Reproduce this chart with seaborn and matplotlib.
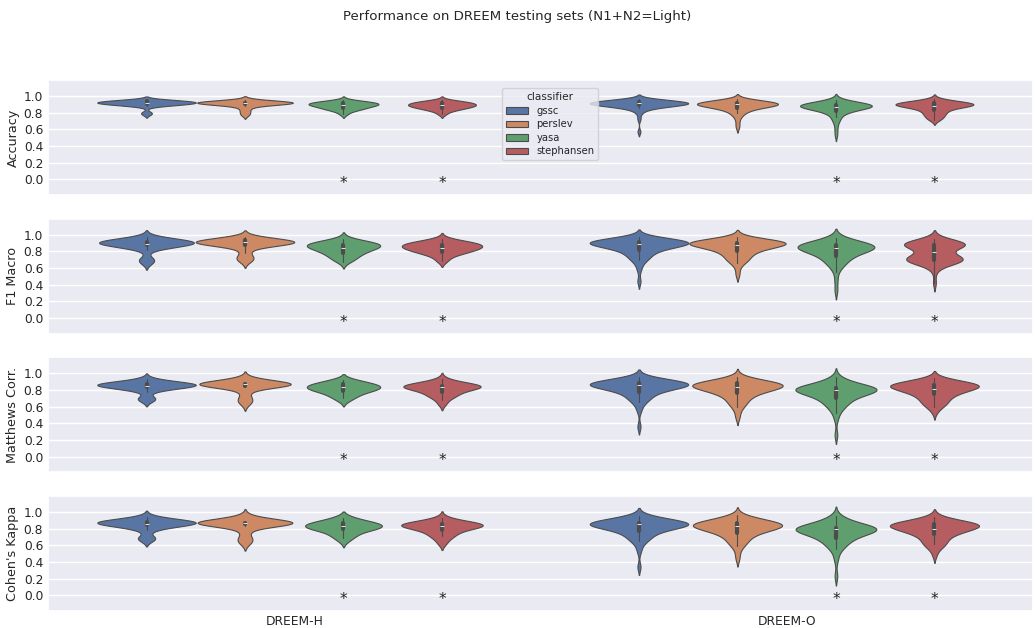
import numpy as np
import pandas as pd
import matplotlib
matplotlib.use("Agg")
import matplotlib.pyplot as plt
import seaborn as sns

DATASETS = ["DREEM-H", "DREEM-O"]
CLASSIFIERS = ["gssc", "perslev", "yasa", "stephansen"]
METRICS = ["Accuracy", "F1 Macro", "Matthews Corr.", "Cohen's Kappa"]
STARRED = ["yasa", "stephansen"]
YTICKS = [0.0, 0.2, 0.4, 0.6, 0.8, 1.0]

# Per-subject scores: score levels and number of subjects at each level
ACC_H_GSSC = [0.78, 0.80, 0.88, 0.90, 0.92, 0.94, 0.95]
ACC_H_GSSC_N = [1, 1, 2, 6, 8, 6, 1]
ACC_H_PERSLEV = [0.77, 0.80, 0.83, 0.86, 0.88, 0.90, 0.92, 0.94, 0.95]
ACC_H_PERSLEV_N = [1, 1, 1, 1, 1, 5, 11, 3, 1]
ACC_H_YASA = [0.78, 0.81, 0.83, 0.85, 0.87, 0.89, 0.91, 0.93, 0.95]
ACC_H_YASA_N = [1, 1, 2, 3, 3, 5, 5, 4, 1]
ACC_H_STEPH = [0.78, 0.81, 0.83, 0.85, 0.87, 0.89, 0.91, 0.93, 0.95]
ACC_H_STEPH_N = [1, 1, 2, 3, 4, 5, 4, 4, 1]
ACC_O_GSSC = [0.57, 0.72, 0.78, 0.82, 0.85, 0.87, 0.89, 0.91, 0.93, 0.95, 0.96]
ACC_O_GSSC_N = [1, 1, 1, 2, 3, 5, 10, 14, 11, 6, 1]
ACC_O_PERSLEV = [0.62, 0.67, 0.72, 0.76, 0.80, 0.83, 0.86, 0.88, 0.90, 0.92, 0.94, 0.96]
ACC_O_PERSLEV_N = [1, 1, 1, 2, 3, 4, 6, 8, 11, 10, 6, 2]
ACC_O_YASA = [0.53, 0.60, 0.66, 0.71, 0.75, 0.79, 0.82, 0.85, 0.87, 0.89, 0.91, 0.93, 0.95]
ACC_O_YASA_N = [1, 1, 1, 2, 2, 3, 5, 7, 10, 11, 7, 3, 2]
ACC_O_STEPH = [0.71, 0.74, 0.77, 0.80, 0.83, 0.86, 0.88, 0.90, 0.92, 0.94, 0.96]
ACC_O_STEPH_N = [2, 3, 3, 4, 4, 6, 8, 11, 9, 3, 2]

F1_H_GSSC = [0.66, 0.70, 0.82, 0.85, 0.87, 0.89, 0.91, 0.93, 0.95, 0.97]
F1_H_GSSC_N = [1, 2, 1, 2, 3, 4, 6, 4, 1, 1]
F1_H_PERSLEV = [0.68, 0.72, 0.78, 0.84, 0.87, 0.89, 0.91, 0.93, 0.95, 0.97]
F1_H_PERSLEV_N = [1, 2, 1, 1, 2, 4, 7, 4, 2, 1]
F1_H_YASA = [0.67, 0.71, 0.75, 0.78, 0.81, 0.84, 0.86, 0.88, 0.90, 0.92, 0.95]
F1_H_YASA_N = [1, 2, 2, 2, 3, 3, 3, 3, 3, 2, 1]
F1_H_STEPH = [0.68, 0.72, 0.76, 0.79, 0.82, 0.84, 0.86, 0.88, 0.90, 0.92, 0.95]
F1_H_STEPH_N = [1, 1, 2, 3, 3, 3, 3, 3, 3, 2, 1]
F1_O_GSSC = [0.44, 0.58, 0.64, 0.69, 0.73, 0.77, 0.81, 0.84, 0.87, 0.89, 0.91, 0.93, 0.95, 0.97]
F1_O_GSSC_N = [1, 1, 1, 2, 3, 3, 4, 5, 6, 8, 9, 7, 4, 1]
F1_O_PERSLEV = [0.52, 0.60, 0.66, 0.70, 0.74, 0.78, 0.82, 0.85, 0.88, 0.90, 0.92, 0.94, 0.97]
F1_O_PERSLEV_N = [1, 1, 2, 3, 3, 4, 5, 6, 8, 9, 7, 4, 2]
F1_O_YASA = [0.33, 0.45, 0.55, 0.61, 0.66, 0.70, 0.74, 0.78, 0.81, 0.84, 0.86, 0.88, 0.90, 0.93, 0.96]
F1_O_YASA_N = [1, 1, 1, 2, 3, 3, 4, 5, 6, 7, 7, 6, 4, 3, 2]
F1_O_STEPH = [0.42, 0.55, 0.62, 0.66, 0.69, 0.72, 0.75, 0.79, 0.82, 0.85, 0.88, 0.90, 0.92, 0.95]
F1_O_STEPH_N = [1, 1, 2, 5, 7, 7, 4, 2, 2, 5, 8, 6, 3, 2]

MCC_H_GSSC = [0.67, 0.70, 0.78, 0.81, 0.83, 0.85, 0.87, 0.89, 0.91, 0.93]
MCC_H_GSSC_N = [1, 2, 1, 2, 3, 5, 6, 3, 1, 1]
MCC_H_PERSLEV = [0.63, 0.68, 0.74, 0.80, 0.83, 0.85, 0.87, 0.89, 0.91, 0.94]
MCC_H_PERSLEV_N = [1, 2, 1, 1, 1, 4, 9, 3, 2, 1]
MCC_H_YASA = [0.67, 0.70, 0.73, 0.76, 0.79, 0.81, 0.83, 0.85, 0.87, 0.89, 0.92]
MCC_H_YASA_N = [1, 1, 2, 2, 3, 3, 3, 3, 3, 2, 2]
MCC_H_STEPH = [0.63, 0.68, 0.72, 0.75, 0.78, 0.81, 0.83, 0.85, 0.87, 0.89, 0.93]
MCC_H_STEPH_N = [1, 1, 2, 2, 2, 3, 4, 4, 3, 2, 1]
MCC_O_GSSC = [0.36, 0.55, 0.61, 0.66, 0.70, 0.74, 0.78, 0.81, 0.84, 0.86, 0.88, 0.90, 0.92, 0.95]
MCC_O_GSSC_N = [1, 1, 1, 2, 3, 3, 4, 5, 7, 8, 8, 6, 4, 2]
MCC_O_PERSLEV = [0.47, 0.54, 0.60, 0.65, 0.70, 0.74, 0.78, 0.81, 0.84, 0.86, 0.88, 0.90, 0.93, 0.96]
MCC_O_PERSLEV_N = [1, 1, 2, 3, 3, 4, 5, 7, 7, 7, 6, 5, 3, 1]
MCC_O_YASA = [0.26, 0.45, 0.52, 0.57, 0.62, 0.66, 0.70, 0.74, 0.77, 0.80, 0.82, 0.84, 0.86, 0.89, 0.92, 0.95]
MCC_O_YASA_N = [1, 1, 1, 2, 3, 3, 4, 5, 6, 9, 7, 5, 3, 2, 2, 1]
MCC_O_STEPH = [0.53, 0.59, 0.63, 0.67, 0.71, 0.75, 0.78, 0.81, 0.84, 0.86, 0.88, 0.91, 0.94]
MCC_O_STEPH_N = [1, 2, 3, 3, 4, 4, 5, 7, 7, 7, 6, 4, 2]

KAPPA_H_GSSC = [0.66, 0.69, 0.78, 0.81, 0.84, 0.86, 0.88, 0.90, 0.92, 0.94]
KAPPA_H_GSSC_N = [1, 2, 1, 2, 3, 5, 6, 3, 1, 1]
KAPPA_H_PERSLEV = [0.62, 0.67, 0.74, 0.80, 0.83, 0.85, 0.87, 0.89, 0.91, 0.95]
KAPPA_H_PERSLEV_N = [1, 2, 1, 1, 1, 4, 9, 3, 2, 1]
KAPPA_H_YASA = [0.65, 0.69, 0.72, 0.76, 0.79, 0.81, 0.83, 0.85, 0.87, 0.89, 0.93]
KAPPA_H_YASA_N = [1, 1, 2, 2, 3, 3, 3, 3, 3, 2, 2]
KAPPA_H_STEPH = [0.62, 0.67, 0.71, 0.75, 0.78, 0.81, 0.83, 0.85, 0.87, 0.89, 0.93]
KAPPA_H_STEPH_N = [1, 1, 2, 2, 2, 3, 4, 4, 3, 2, 1]
KAPPA_O_GSSC = [0.34, 0.53, 0.60, 0.65, 0.69, 0.73, 0.77, 0.80, 0.83, 0.85, 0.87, 0.89, 0.92, 0.95]
KAPPA_O_GSSC_N = [1, 1, 1, 2, 3, 3, 4, 5, 7, 8, 8, 6, 4, 2]
KAPPA_O_PERSLEV = [0.44, 0.52, 0.59, 0.64, 0.69, 0.73, 0.77, 0.80, 0.83, 0.85, 0.87, 0.90, 0.93, 0.96]
KAPPA_O_PERSLEV_N = [1, 1, 2, 3, 3, 4, 5, 7, 7, 7, 6, 5, 3, 1]
KAPPA_O_YASA = [0.23, 0.42, 0.50, 0.56, 0.61, 0.65, 0.69, 0.73, 0.76, 0.79, 0.81, 0.83, 0.86, 0.89, 0.92, 0.95]
KAPPA_O_YASA_N = [1, 1, 1, 2, 3, 3, 4, 5, 6, 9, 7, 5, 3, 2, 2, 1]
KAPPA_O_STEPH = [0.48, 0.56, 0.61, 0.65, 0.70, 0.74, 0.77, 0.80, 0.83, 0.85, 0.87, 0.90, 0.94]
KAPPA_O_STEPH_N = [1, 2, 3, 3, 4, 4, 5, 7, 7, 7, 6, 4, 2]

SCORES = {
    ("Accuracy", "DREEM-H"): [(ACC_H_GSSC, ACC_H_GSSC_N), (ACC_H_PERSLEV, ACC_H_PERSLEV_N),
                              (ACC_H_YASA, ACC_H_YASA_N), (ACC_H_STEPH, ACC_H_STEPH_N)],
    ("Accuracy", "DREEM-O"): [(ACC_O_GSSC, ACC_O_GSSC_N), (ACC_O_PERSLEV, ACC_O_PERSLEV_N),
                              (ACC_O_YASA, ACC_O_YASA_N), (ACC_O_STEPH, ACC_O_STEPH_N)],
    ("F1 Macro", "DREEM-H"): [(F1_H_GSSC, F1_H_GSSC_N), (F1_H_PERSLEV, F1_H_PERSLEV_N),
                              (F1_H_YASA, F1_H_YASA_N), (F1_H_STEPH, F1_H_STEPH_N)],
    ("F1 Macro", "DREEM-O"): [(F1_O_GSSC, F1_O_GSSC_N), (F1_O_PERSLEV, F1_O_PERSLEV_N),
                              (F1_O_YASA, F1_O_YASA_N), (F1_O_STEPH, F1_O_STEPH_N)],
    ("Matthews Corr.", "DREEM-H"): [(MCC_H_GSSC, MCC_H_GSSC_N), (MCC_H_PERSLEV, MCC_H_PERSLEV_N),
                                    (MCC_H_YASA, MCC_H_YASA_N), (MCC_H_STEPH, MCC_H_STEPH_N)],
    ("Matthews Corr.", "DREEM-O"): [(MCC_O_GSSC, MCC_O_GSSC_N), (MCC_O_PERSLEV, MCC_O_PERSLEV_N),
                                    (MCC_O_YASA, MCC_O_YASA_N), (MCC_O_STEPH, MCC_O_STEPH_N)],
    ("Cohen's Kappa", "DREEM-H"): [(KAPPA_H_GSSC, KAPPA_H_GSSC_N), (KAPPA_H_PERSLEV, KAPPA_H_PERSLEV_N),
                                   (KAPPA_H_YASA, KAPPA_H_YASA_N), (KAPPA_H_STEPH, KAPPA_H_STEPH_N)],
    ("Cohen's Kappa", "DREEM-O"): [(KAPPA_O_GSSC, KAPPA_O_GSSC_N), (KAPPA_O_PERSLEV, KAPPA_O_PERSLEV_N),
                                   (KAPPA_O_YASA, KAPPA_O_YASA_N), (KAPPA_O_STEPH, KAPPA_O_STEPH_N)],
}

rows = []
for (metric, dataset), per_clf in SCORES.items():
    for clf, (levels, counts) in zip(CLASSIFIERS, per_clf):
        for score in np.repeat(levels, counts):
            rows.append({"metric": metric, "dataset": dataset, "classifier": clf, "score": float(score)})
df = pd.DataFrame(rows)

sns.set_theme(style="darkgrid", rc={
    "xtick.labelsize": 8.8, "ytick.labelsize": 8.8, "axes.labelsize": 9.2,
    "legend.fontsize": 7.2, "legend.title_fontsize": 7.6,
    "xtick.major.size": 0, "ytick.major.size": 0,
    "xtick.major.pad": 3.0, "ytick.major.pad": 3.5,
})
palette = sns.color_palette("deep", len(CLASSIFIERS))

fig, axes = plt.subplots(len(METRICS), 1, figsize=(10.35, 6.28), dpi=100, sharex=True)
fig.subplots_adjust(left=0.0464, right=0.998, top=0.8726, bottom=0.027, hspace=0.206)

slot = 0.8 / len(CLASSIFIERS)
for i, (ax, metric) in enumerate(zip(axes, METRICS)):
    sub = df[df["metric"] == metric]
    # each dataset is scaled on its own so its violins share one area norm
    for j, dataset in enumerate(DATASETS):
        sns.violinplot(
            data=sub[sub["dataset"] == dataset], x="dataset", y="score",
            hue="classifier", order=DATASETS, hue_order=CLASSIFIERS,
            palette=palette, density_norm="area", common_norm=True,
            linewidth=0.8, inner_kws=dict(box_width=3, whis_width=0.8),
            ax=ax, legend=(i == 0 and j == 0),
        )
        for clf in STARRED:
            k = CLASSIFIERS.index(clf)
            ax.text(j + (k - (len(CLASSIFIERS) - 1) / 2) * slot, -0.05, "*",
                    ha="center", va="center", fontsize=11, color="#222222")
    ax.set_ylim(-0.19, 1.19)
    ax.set_yticks(YTICKS)
    ax.set_ylabel(metric, labelpad=3)
    ax.set_xlabel("")

sns.move_legend(axes[0], "upper center", bbox_to_anchor=(0.51, 0.97),
                title="classifier", frameon=True, labelspacing=0.35,
                handlelength=2.2, handleheight=0.6)

fig.suptitle("Performance on DREEM testing sets (N1+N2=Light)", fontsize=9.6, y=0.973, va="center")
fig.savefig("out.png", dpi=100)
